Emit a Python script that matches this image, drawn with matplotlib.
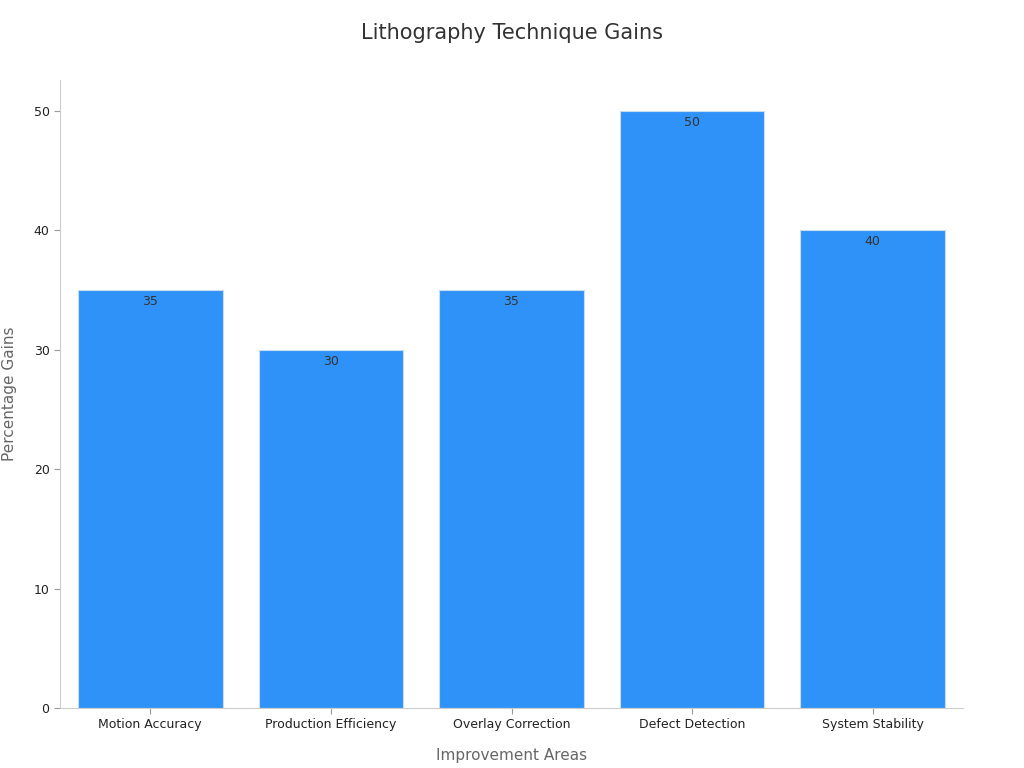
import matplotlib.pyplot as plt

categories = ['Motion Accuracy', 'Production Efficiency', 'Overlay Correction',
              'Defect Detection', 'System Stability']
gains = [35, 30, 35, 50, 40]

fig = plt.figure(figsize=(10.24, 7.68), dpi=100)
ax = fig.add_axes([60 / 1024, 60 / 768, 903 / 1024, 628 / 768])

bars = ax.bar(range(len(categories)), gains, width=0.8, color='#2f92f8',
              edgecolor='#c8dcf0', linewidth=0.8)
for x, v in zip(range(len(categories)), gains):
    ax.text(x, v - 0.4, str(v), ha='center', va='top', fontsize=9, color='#333333')

ax.set_xlim(-0.5, 4.5)
ax.set_ylim(0, 52.6)
ax.set_yticks([0, 10, 20, 30, 40, 50])
ax.set_xticks(range(len(categories)))
ax.set_xticklabels(categories, fontsize=9, color='#222222')
ax.tick_params(axis='y', labelsize=9, colors='#222222')
ax.tick_params(axis='both', color='#999999', length=4)
for s in ['top', 'right']:
    ax.spines[s].set_visible(False)
for s in ['left', 'bottom']:
    ax.spines[s].set_color('#cccccc')

ax.set_xlabel('Improvement Areas', fontsize=11, color='#666666', labelpad=12)
ax.set_ylabel('Percentage Gains', fontsize=11, color='#666666', labelpad=12)
fig.text(0.5, 1 - 33 / 768, 'Lithography Technique Gains', ha='center', va='center',
         fontsize=15, color='#333333')

fig.savefig('out.png', dpi=100)
